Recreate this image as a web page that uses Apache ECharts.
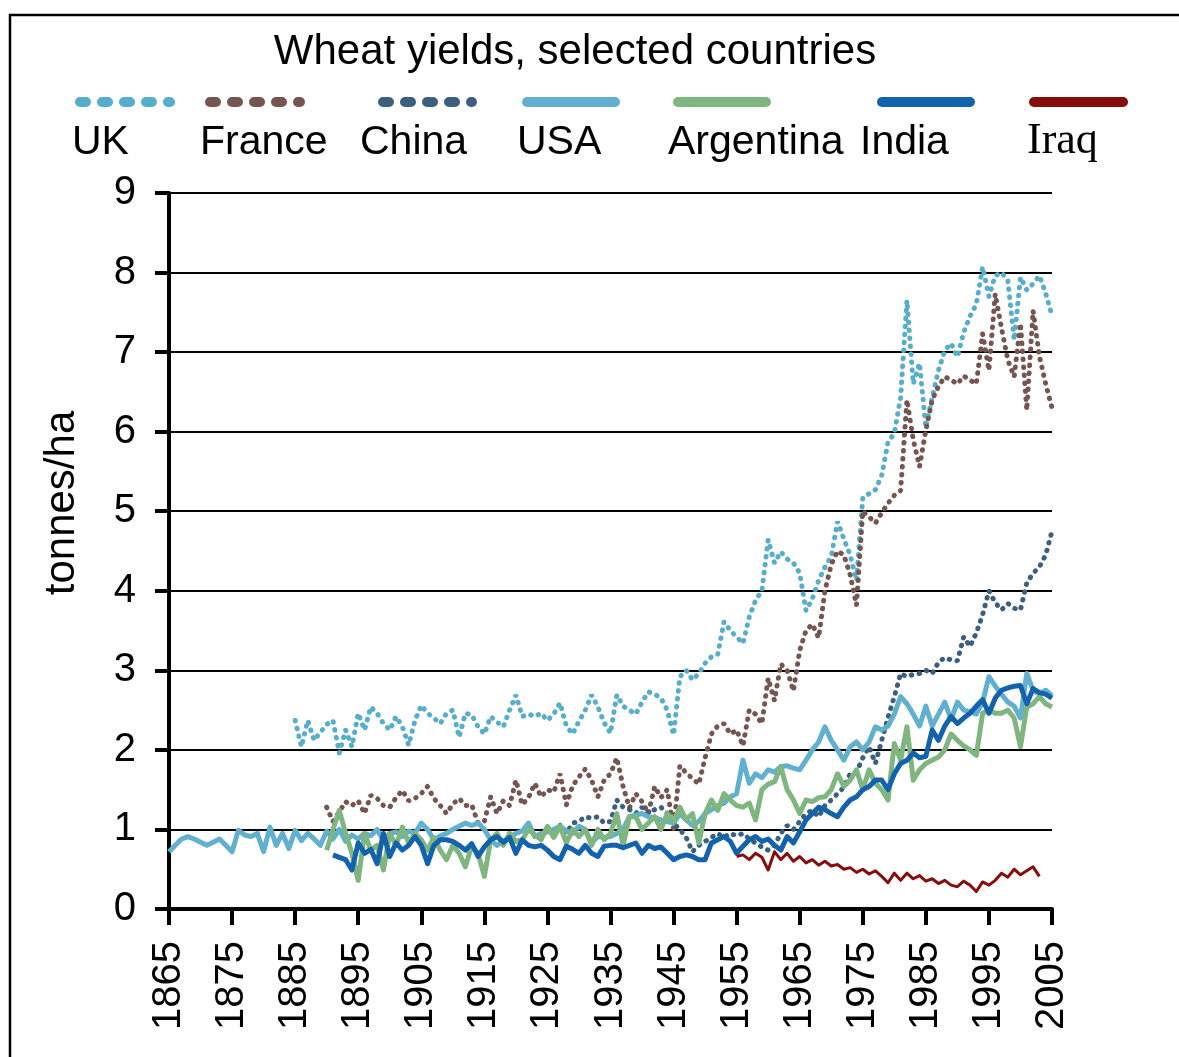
<!DOCTYPE html>
<html>
<head>
<meta charset="utf-8">
<title>Wheat yields, selected countries</title>
<script src="https://cdn.jsdelivr.net/npm/echarts@6/dist/echarts.min.js"></script>
<style>
  html, body { margin: 0; padding: 0; background: #fff; }
  #chart { width: 1179px; height: 1057px; }
</style>
</head>
<body>
<div id="chart"></div>
<script>
// wheat yield, tonnes/ha, one value per year starting at the given year
const ukStart = 1885;
const ukYield = [
  2.37, 2.04, 2.37, 2.12, 2.22, 2.32, 2.37, 1.96, 2.25, 2.04,
  2.46, 2.25, 2.54, 2.46, 2.33, 2.25, 2.42, 2.29, 2.06, 2.37,
  2.56, 2.46, 2.4, 2.33, 2.46, 2.5, 2.16, 2.46, 2.44, 2.29,
  2.2, 2.42, 2.35, 2.29, 2.5, 2.69, 2.42, 2.45, 2.42, 2.46,
  2.37, 2.45, 2.59, 2.3, 2.2, 2.36, 2.5, 2.69, 2.54, 2.34,
  2.21, 2.69, 2.55, 2.5, 2.45, 2.6, 2.73, 2.7, 2.65, 2.5,
  2.19, 2.92, 3.0, 2.88, 2.96, 3.09, 3.17, 3.2, 3.61, 3.5,
  3.42, 3.34, 3.67, 3.88, 4.0, 4.64, 4.35, 4.49, 4.4, 4.35,
  4.22, 3.75, 3.9, 4.13, 4.3, 4.43, 4.87, 4.65, 4.45, 4.13,
  5.17, 5.22, 5.27, 5.45, 5.87, 5.98, 6.43, 7.65, 6.6, 6.86,
  6.05, 6.43, 6.77, 7.02, 7.11, 6.94, 7.25, 7.45, 7.6, 8.07,
  7.7, 7.96, 8.0, 7.9, 7.15, 7.94, 7.78, 7.86, 7.96, 7.74, 7.46
];

const franceStart = 1890;
const franceYield = [
  1.28, 1.1, 1.22, 1.35, 1.3, 1.36, 1.2, 1.43, 1.39, 1.3,
  1.28, 1.4, 1.49, 1.36, 1.39, 1.45, 1.54, 1.39, 1.3, 1.2,
  1.32, 1.39, 1.3, 1.31, 1.08, 1.1, 1.41, 1.2, 1.36, 1.3,
  1.62, 1.31, 1.4, 1.58, 1.41, 1.5, 1.47, 1.7, 1.31, 1.55,
  1.66, 1.76, 1.62, 1.41, 1.62, 1.7, 1.9, 1.54, 1.27, 1.45,
  1.35, 1.2, 1.54, 1.4, 1.5, 1.0, 1.8, 1.71, 1.64, 1.57,
  1.9, 2.2, 2.3, 2.33, 2.2, 2.25, 2.05, 2.5, 2.45, 2.33,
  2.9, 2.62, 3.08, 3.0, 2.74, 3.25, 3.5, 3.58, 3.41, 4.0,
  4.33, 4.5, 4.45, 4.2, 3.82, 5.0, 4.93, 4.85, 4.98, 5.1,
  5.2, 5.26, 6.4, 5.9, 5.56, 6.02, 6.4, 6.57, 6.69, 6.65,
  6.6, 6.7, 6.65, 6.6, 7.23, 6.77, 7.73, 7.3, 6.9, 6.69,
  7.36, 6.27, 7.52, 6.95, 6.6, 6.3
];

const chinaStart = 1927;
const chinaYield = [
  1.05, 0.95, 1.08, 1.1, 1.16, 1.14, 1.16, 1.08, 1.1, 1.37,
  1.28, 1.25, 1.2, 1.28, 1.2, 1.25, 1.28, 1.2, 1.08, 1.0,
  0.9, 0.72, 0.8, 0.85, 0.9, 0.95, 0.9, 0.95, 0.92, 0.95,
  0.88, 0.83, 0.78, 0.74, 0.8, 0.95, 1.05, 1.0, 1.1, 1.2,
  1.24, 1.16, 1.3, 1.37, 1.45, 1.53, 1.7, 1.72, 1.9, 2.04,
  1.83, 2.12, 2.41, 2.67, 2.96, 2.92, 2.95, 2.96, 3.0, 2.96,
  3.1, 3.16, 3.13, 3.12, 3.42, 3.3, 3.47, 3.7, 4.0, 3.85,
  3.76, 3.84, 3.78, 3.76, 4.1, 4.22, 4.3, 4.45, 4.75
];

const usaStart = 1865;
const usaYield = [
  0.72, 0.8, 0.88, 0.91, 0.88, 0.84, 0.8, 0.84, 0.88, 0.8,
  0.72, 0.99, 0.93, 0.91, 0.95, 0.72, 1.03, 0.8, 0.95, 0.76,
  0.99, 0.86, 0.95, 0.88, 0.8, 0.98, 0.88, 1.0, 0.85, 0.93,
  0.88, 0.95, 0.92, 1.0, 0.86, 0.95, 0.97, 0.91, 0.98, 0.95,
  1.08, 1.0, 0.87, 0.92, 0.95, 1.0, 1.04, 1.08, 1.05, 1.08,
  1.0, 0.87, 0.8, 0.85, 0.9, 0.95, 0.98, 1.08, 0.91, 0.95,
  0.97, 1.0, 1.04, 0.98, 0.95, 1.04, 1.0, 0.83, 0.91, 0.9,
  0.91, 0.95, 1.0, 1.16, 1.18, 1.2, 1.16, 1.15, 1.12, 1.1,
  1.08, 1.2, 1.12, 1.05, 1.1, 1.2, 1.25, 1.3, 1.33, 1.41,
  1.45, 1.87, 1.58, 1.7, 1.65, 1.75, 1.72, 1.79, 1.8, 1.77,
  1.75, 1.87, 2.0, 2.1, 2.29, 2.12, 2.0, 1.87, 2.04, 2.1,
  2.0, 2.1, 2.29, 2.25, 2.3, 2.45, 2.67, 2.58, 2.45, 2.3,
  2.55, 2.3, 2.45, 2.6, 2.38, 2.6, 2.5, 2.48, 2.45, 2.6,
  2.92, 2.8, 2.7, 2.6, 2.55, 2.4, 2.96, 2.75, 2.7, 2.75, 2.68
];

const argentinaStart = 1890;
const argentinaYield = [
  0.74, 1.0, 1.24, 0.95, 0.7, 0.36, 0.95, 0.74, 0.8, 0.49,
  0.95, 0.8, 1.03, 0.83, 0.95, 0.87, 0.74, 0.9, 0.74, 0.62,
  0.8, 0.7, 0.53, 0.8, 0.7, 0.41, 0.87, 0.95, 0.8, 0.95,
  0.85, 0.87, 1.0, 0.93, 0.87, 1.04, 0.9, 1.04, 0.83, 1.0,
  0.91, 1.0, 0.8, 1.0, 0.87, 0.95, 1.2, 0.8, 1.16, 1.16,
  1.0, 1.08, 1.16, 1.0, 1.2, 1.1, 1.28, 1.12, 1.2, 0.83,
  1.2, 1.37, 1.24, 1.45, 1.37, 1.3, 1.28, 1.33, 1.12, 1.5,
  1.57, 1.6, 1.79, 1.5, 1.37, 1.2, 1.37, 1.35, 1.4, 1.41,
  1.5, 1.7, 1.54, 1.62, 1.75, 1.5, 1.75, 1.58, 1.5, 1.37,
  2.08, 1.87, 2.29, 1.62, 1.75, 1.83, 1.87, 1.91, 2.0, 2.2,
  2.12, 2.05, 2.0, 1.93, 2.46, 2.5, 2.46, 2.46, 2.5, 2.4,
  2.04, 2.54, 2.58, 2.67, 2.58, 2.54
];

const indiaStart = 1891;
const indiaYield = [
  0.68, 0.65, 0.62, 0.49, 0.83, 0.7, 0.75, 0.57, 0.95, 0.66,
  0.83, 0.74, 0.8, 0.91, 0.8, 0.57, 0.8, 0.87, 0.87, 0.85,
  0.8, 0.74, 0.82, 0.66, 0.78, 0.87, 0.91, 0.84, 0.9, 0.7,
  0.87, 0.8, 0.78, 0.8, 0.74, 0.66, 0.62, 0.79, 0.75, 0.7,
  0.8, 0.7, 0.66, 0.79, 0.8, 0.8, 0.77, 0.8, 0.83, 0.7,
  0.8, 0.76, 0.78, 0.7, 0.62, 0.66, 0.68, 0.66, 0.62, 0.62,
  0.83, 0.87, 0.91, 0.85, 0.7, 0.79, 0.87, 0.91, 0.85, 0.88,
  0.8, 0.74, 0.91, 0.83, 0.97, 1.12, 1.2, 1.28, 1.25, 1.2,
  1.16, 1.28, 1.37, 1.41, 1.5, 1.54, 1.62, 1.62, 1.5, 1.7,
  1.83, 1.87, 1.96, 1.9, 1.92, 2.25, 2.12, 2.3, 2.42, 2.33,
  2.4, 2.46, 2.55, 2.63, 2.46, 2.65, 2.75, 2.78, 2.8, 2.81,
  2.58, 2.77, 2.72, 2.7, 2.65
];

const iraqStart = 1955;
const iraqYield = [
  0.66, 0.68, 0.62, 0.7, 0.65, 0.49, 0.72, 0.62, 0.7, 0.6,
  0.66, 0.58, 0.62, 0.55, 0.6, 0.54, 0.56, 0.5, 0.52, 0.46,
  0.5, 0.44, 0.48, 0.41, 0.33, 0.45, 0.36, 0.45, 0.38, 0.42,
  0.35, 0.38, 0.32, 0.36, 0.3, 0.28, 0.35, 0.3, 0.22, 0.34,
  0.3, 0.36, 0.45, 0.4, 0.5, 0.43, 0.48, 0.53, 0.41
];

const countries = ["UK", "France", "China", "USA", "Argentina", "India", "Iraq"];
const yearTicks = [1865, 2005, 10];   // first, last, step
const yTicks = [0, 9, 1];

// styling
const colors = ["#56aecb", "#765550", "#3b5f7e", "#62b0cf", "#7fb57f", "#1262ad", "#870d0d"];
const dotted = [true, true, true, false, false, false, false];
const widths = [5, 5, 5, 5, 5, 5, 3];
// legend swatch x range and label x for each country
const legendSwatch = [[75, 175], [205, 305], [378, 477], [522, 620], [673, 771], [877, 975], [1029, 1128]];
const legendLabelX = [72, 200, 360, 517, 668, 860, 1027];

const sansFont = '"Liberation Sans", Arial, sans-serif';

function pairs(start, vals) {
  return vals.map((v, i) => [start + i, v]);
}

const seriesData = [
  pairs(ukStart, ukYield),
  pairs(franceStart, franceYield),
  pairs(chinaStart, chinaYield),
  pairs(usaStart, usaYield),
  pairs(argentinaStart, argentinaYield),
  pairs(indiaStart, indiaYield),
  pairs(iraqStart, iraqYield)
];

const series = countries.map((name, i) => ({
  name: name,
  type: "line",
  data: seriesData[i],
  showSymbol: false,
  symbol: "none",
  lineStyle: dotted[i]
    ? { color: colors[i], width: widths[i], type: [0.5, 7.5], cap: "round" }
    : { color: colors[i], width: widths[i], join: "round" },
  z: 2 + i
}));

// legend drawn as swatch line above the label
const legendGraphics = [];
countries.forEach((name, i) => {
  const [x1, x2] = legendSwatch[i];
  legendGraphics.push({
    type: "line",
    shape: { x1: x1 + 5, y1: 102, x2: x2 - 5, y2: 102 },
    style: dotted[i]
      ? { stroke: colors[i], lineWidth: 10, lineDash: [6, 16], lineCap: "round" }
      : { stroke: colors[i], lineWidth: 10, lineCap: "round" }
  });
  legendGraphics.push({
    type: "text",
    x: legendLabelX[i],
    y: name === "Iraq" ? 141 : 143,
    style: {
      text: name,
      fill: "#000",
      font: name === "Iraq" ? '44px "Liberation Serif", serif' : "41px " + sansFont,
      verticalAlign: "middle"
    }
  });
});

// outer frame (open on the right and bottom edges of the page)
legendGraphics.push({
  type: "rect",
  shape: { x: 10, y: 15, width: 1300, height: 1200 },
  style: { fill: "none", stroke: "#000", lineWidth: 2.5 },
  silent: true
});

const myChart = echarts.init(document.getElementById("chart"));
myChart.setOption({
  animation: false,
  backgroundColor: "#fff",
  title: {
    text: "Wheat yields, selected countries",
    left: 570,
    top: 26,
    textAlign: "center",
    textStyle: { fontSize: 42, fontWeight: "normal", color: "#000", fontFamily: sansFont }
  },
  grid: { left: 169, right: 127, top: 193, bottom: 148 },
  xAxis: {
    type: "value",
    min: yearTicks[0],
    max: yearTicks[1],
    interval: yearTicks[2],
    axisLine: { lineStyle: { color: "#000", width: 4 } },
    axisTick: { show: true, length: 16, lineStyle: { color: "#000", width: 4 } },
    axisLabel: {
      rotate: 90,
      margin: 32,
      fontSize: 40,
      color: "#000",
      fontFamily: sansFont,
      formatter: (v) => String(v)
    },
    splitLine: { show: false }
  },
  yAxis: {
    type: "value",
    min: yTicks[0],
    max: yTicks[1],
    interval: yTicks[2],
    name: "tonnes/ha",
    nameLocation: "middle",
    nameGap: 86,
    nameTextStyle: { fontSize: 42, color: "#000", fontFamily: sansFont, padding: [0, 0, 0, 96] },
    axisLine: { show: true, lineStyle: { color: "#000", width: 4 } },
    axisTick: { show: true, length: 14, lineStyle: { color: "#000", width: 4 } },
    axisLabel: { margin: 33, fontSize: 40, color: "#000", fontFamily: sansFont },
    splitLine: { show: true, lineStyle: { color: "#000", width: 2 } }
  },
  graphic: legendGraphics,
  series: series
});
window.addEventListener("resize", function () {
  myChart.resize();
});
</script>
</body>
</html>
